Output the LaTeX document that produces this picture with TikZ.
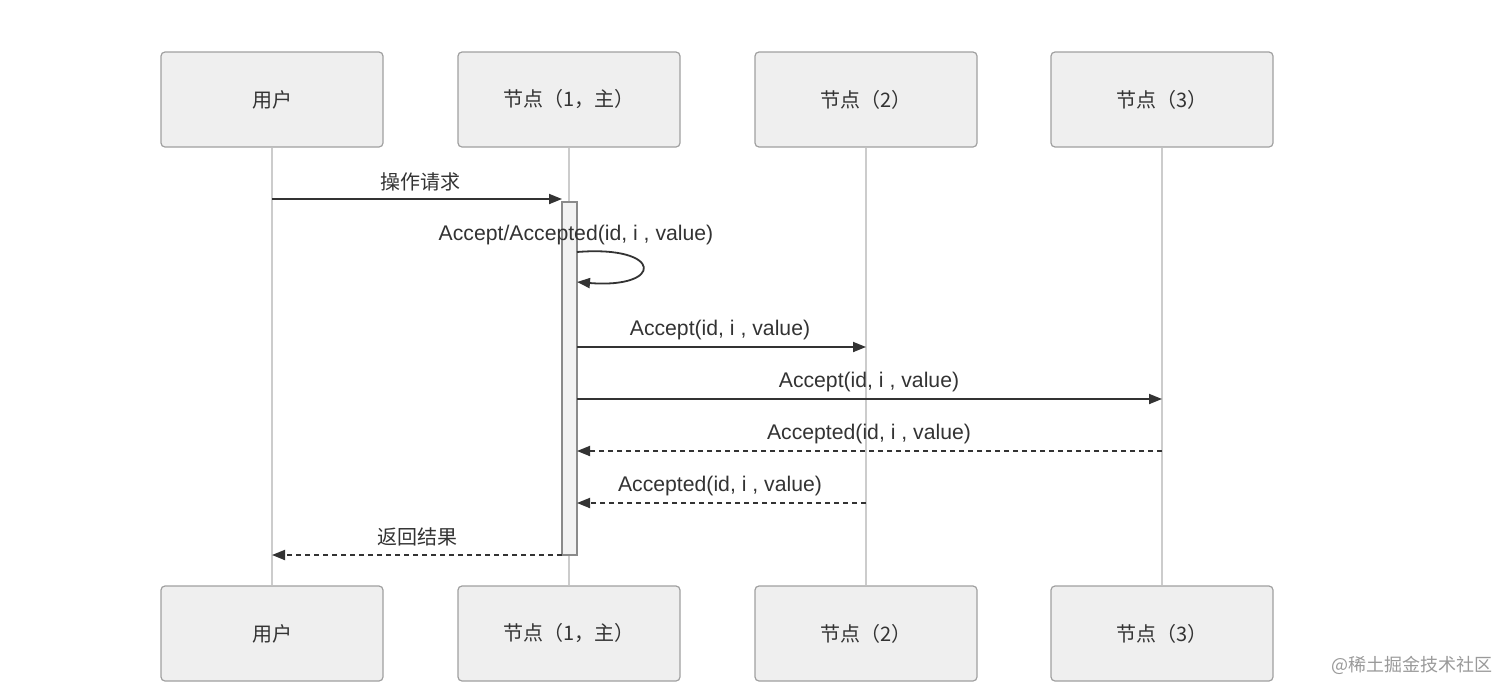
\documentclass[tikz,border=0pt]{standalone}
\usepackage{fontspec}
\setmainfont{Liberation Sans}
\newfontfamily\cjk{Noto Sans CJK SC}
\usetikzlibrary{arrows.meta}
\definecolor{boxline}{HTML}{A0A0A0}
\definecolor{boxfill}{HTML}{EFEFEF}
\definecolor{lifec}{HTML}{CCCCCC}
\definecolor{msgc}{HTML}{333333}
\definecolor{txt}{HTML}{333333}
\definecolor{actfill}{HTML}{F2F2F2}
\definecolor{actline}{HTML}{8A8A8A}
\definecolor{sig}{HTML}{9A9A9A}
\begin{document}
\begin{tikzpicture}[x=0.5pt,y=-0.5pt,
  actor/.style={draw=boxline, fill=boxfill, line width=0.6pt, rounded corners=2pt,
    minimum width=111pt, minimum height=47.5pt, inner sep=0pt,
    font=\cjk\fontsize{10}{12}\selectfont, text=txt},
  life/.style={draw=lifec, line width=0.6pt},
  actbox/.style={draw=actline, fill=actfill, line width=0.6pt, minimum width=7.5pt,
    minimum height=176.5pt, inner sep=0pt},
  msg/.style={draw=msgc, line width=0.9pt, -{Triangle[length=6.5pt,width=5pt]}},
  reply/.style={msg, dash pattern=on 2.5pt off 2pt},
  lbl/.style={font=\fontsize{10.6}{12}\selectfont, text=txt, inner sep=0pt},
  clbl/.style={font=\cjk\fontsize{10}{12}\selectfont, text=txt, inner sep=0pt}
]
\useasboundingbox (0,0) rectangle (1512,697);
\fill[white] (0,0) rectangle (1512,697);

% actors top
\node[actor] (ut) at (272,99.5) {用户};
\node[actor] (n1t) at (569,99.5) {节点（1，主）};
\node[actor] (n2t) at (866,99.5) {节点（2）};
\node[actor] (n3t) at (1162,99.5) {节点（3）};
% actors bottom
\node[actor] (ub) at (272,633.5) {用户};
\node[actor] (n1b) at (569,633.5) {节点（1，主）};
\node[actor] (n2b) at (866,633.5) {节点（2）};
\node[actor] (n3b) at (1162,633.5) {节点（3）};

% lifelines
\draw[life] (ut.south) -- (ub.north);
\draw[life] (n1t.south) -- (n1b.north);
\draw[life] (n2t.south) -- (n2b.north);
\draw[life] (n3t.south) -- (n3b.north);

% activation
\node[actbox] (act) at (569.5,378.5) {};

% message coordinates
\coordinate (m1s) at (272,199);
\coordinate (m1e) at (562,199);
\coordinate (lpS) at (577,252);
\coordinate (lpE) at (577,282);
\coordinate (m3s) at (577,347);
\coordinate (m3e) at (866,347);
\coordinate (m4s) at (577,399);
\coordinate (m4e) at (1162,399);
\coordinate (m5s) at (1162,451);
\coordinate (m5e) at (577,451);
\coordinate (m6s) at (866,503);
\coordinate (m6e) at (577,503);
\coordinate (m7s) at (562,555);
\coordinate (m7e) at (272,555);

\draw[msg] (m1s) -- (m1e);
\node[clbl] (l1) at (420,182) {操作请求};

\draw[msg] (lpS) .. controls (664,245) and (664,289) .. (lpE);
\node[lbl] (l2) at (576,235) {Accept/Accepted(id, i , value)};

\draw[msg] (m3s) -- (m3e);
\node[lbl] (l3) at (720,330) {Accept(id, i , value)};

\draw[msg] (m4s) -- (m4e);
\node[lbl] (l4) at (869,382) {Accept(id, i , value)};

\draw[reply] (m5s) -- (m5e);
\node[lbl] (l5) at (869,434) {Accepted(id, i , value)};

\draw[reply] (m6s) -- (m6e);
\node[lbl] (l6) at (720,486) {Accepted(id, i , value)};

\draw[reply] (m7s) -- (m7e);
\node[clbl] (l7) at (417,537) {返回结果};

% signature
\node[font=\cjk\fontsize{9}{10}\selectfont, text=sig, inner sep=0pt] (sg) at (1412,665) {@稀土掘金技术社区};
\end{tikzpicture}
\end{document}
